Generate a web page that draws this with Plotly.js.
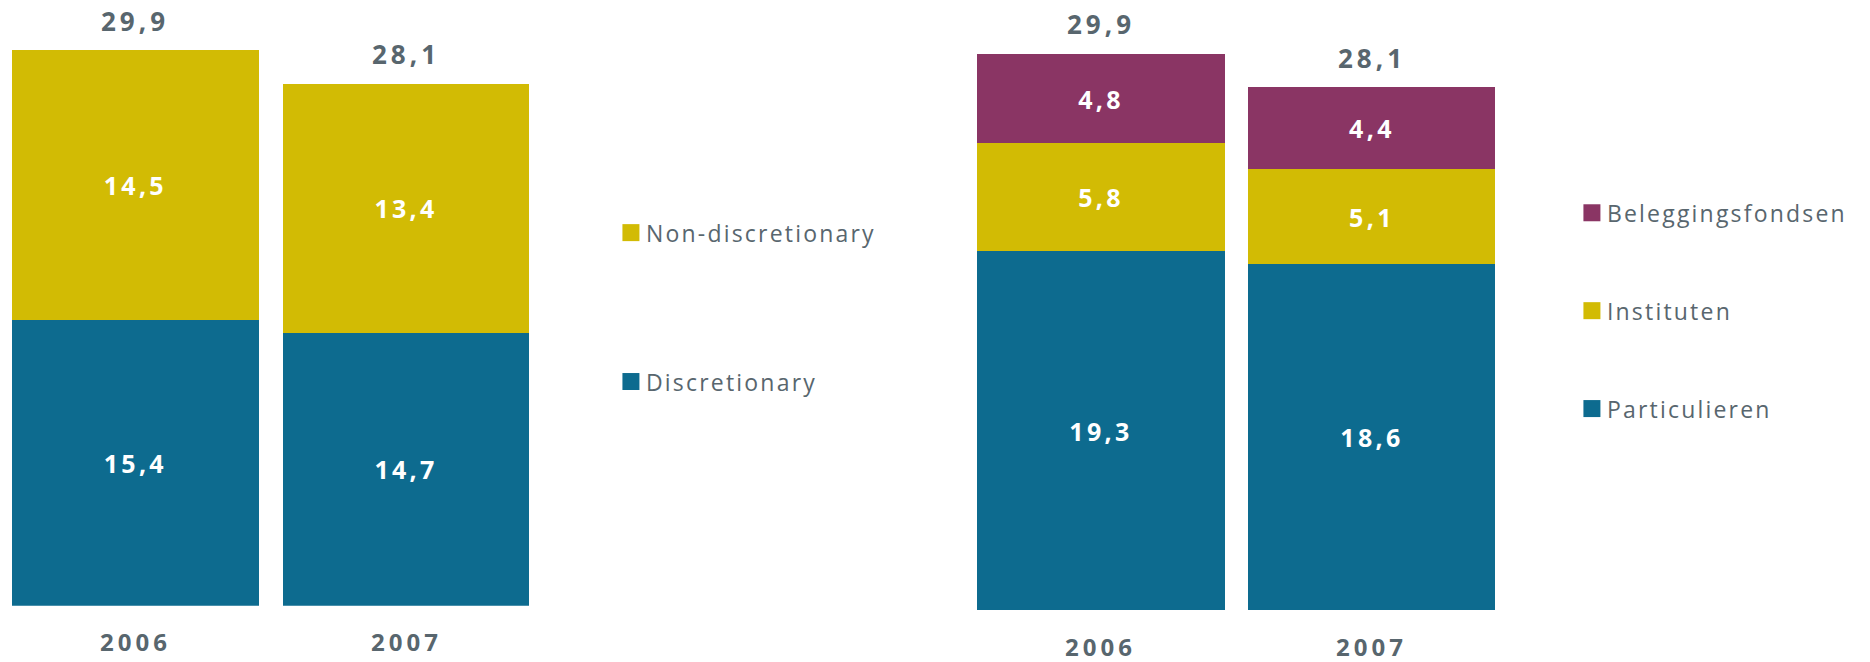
<!DOCTYPE html>
<html>
<head>
<meta charset="utf-8">
<script src="https://cdn.plot.ly/plotly-3.0.1.min.js"></script>
<style>
  html, body { margin: 0; padding: 0; background: #fff; }
  #chart { width: 1870px; height: 662px; }
  text.bartext { letter-spacing: 3.3px; }
  text.annotation-text { letter-spacing: 4px; }
  g[class^="legend"] text { letter-spacing: 2.2px; }
</style>
</head>
<body>
<div id="chart"></div>
<script>
// values (mld euro)
const years = ['2006', '2007'];
const discretionary = [15.4, 14.7];
const nonDiscretionary = [14.5, 13.4];
const particulieren = [19.3, 18.6];
const instituten = [5.8, 5.1];
const beleggingsfondsen = [4.8, 4.4];
const totals = [29.9, 28.1];

const TEAL = '#0d6b8f';
const YELLOW = '#d2bb04';
const PURPLE = '#8a3564';
const GREY = '#58666e';
const FONT = '"Open Sans", Lato, sans-serif';

// helper for one stacked segment
function bar(name, y, color, xa, ya, legend, rank) {
  return {
    type: 'bar',
    name: name,
    x: years,
    y: y,
    xaxis: xa,
    yaxis: ya,
    legend: legend,
    legendgroup: name,
    legendrank: rank,
    marker: {color: color, line: {width: 0}},
    texttemplate: '%{y:.1f}',
    textposition: 'inside',
    insidetextanchor: 'middle',
    textangle: 0,
    constraintext: 'none',
    textfont: {family: FONT, size: 25, color: '#ffffff', weight: 'bold'},
    hoverinfo: 'skip'
  };
}

const data = [
  bar('Discretionary', discretionary, TEAL, 'x', 'y', 'legend', 2),
  bar('Non-discretionary', nonDiscretionary, YELLOW, 'x', 'y', 'legend', 1),
  bar('Particulieren', particulieren, TEAL, 'x2', 'y2', 'legend2', 3),
  bar('Instituten', instituten, YELLOW, 'x2', 'y2', 'legend2', 2),
  bar('Beleggingsfondsen', beleggingsfondsen, PURPLE, 'x2', 'y2', 'legend2', 1)
];

// totals above the stacks and year labels under them
const annotations = [];
[['x', 'y'], ['x2', 'y2']].forEach(([xa, ya]) => {
  years.forEach((yr, i) => {
    annotations.push({
      xref: xa, yref: ya, x: i, y: totals[i],
      text: totals[i].toFixed(1).replace('.', ','),
      showarrow: false, yanchor: 'middle', yshift: 29.5,
      font: {family: FONT, size: 26, color: GREY, weight: 'bold'}
    });
    annotations.push({
      xref: xa, yref: ya, x: i, y: 0,
      text: yr,
      showarrow: false, yanchor: 'middle', yshift: -36,
      font: {family: FONT, size: 24, color: GREY, weight: 'bold'}
    });
  });
});

const hiddenX = {type: 'category', range: [-0.5, 1.5], showgrid: false, zeroline: false,
  showline: false, showticklabels: false, ticks: '', fixedrange: true};
const hiddenY = {showgrid: false, zeroline: false, showline: false, showticklabels: false,
  ticks: '', fixedrange: true};

const legendFont = {family: FONT, size: 23, color: GREY};

const layout = {
  width: 1870,
  height: 662,
  margin: {l: 0, r: 0, t: 0, b: 0, pad: 0},
  paper_bgcolor: '#ffffff',
  plot_bgcolor: 'rgba(0,0,0,0)',
  barmode: 'stack',
  bargap: 0.088,
  separators: ', ',
  showlegend: true,
  xaxis: Object.assign({}, hiddenX, {domain: [0, 0.2895], anchor: 'y'}),
  yaxis: Object.assign({}, hiddenY, {domain: [0.085, 1], range: [0, 32.6], anchor: 'x'}),
  xaxis2: Object.assign({}, hiddenX, {domain: [0.5163, 0.8061], anchor: 'y2'}),
  yaxis2: Object.assign({}, hiddenY, {domain: [0.0785, 1], range: [0, 32.8], anchor: 'x2'}),
  legend: {
    x: 0.3267, y: 0.681, xanchor: 'left', yanchor: 'top',
    traceorder: 'grouped', tracegroupgap: 116,
    bgcolor: 'rgba(0,0,0,0)', borderwidth: 0, font: legendFont
  },
  legend2: {
    x: 0.8406, y: 0.711, xanchor: 'left', yanchor: 'top',
    traceorder: 'grouped', tracegroupgap: 65,
    bgcolor: 'rgba(0,0,0,0)', borderwidth: 0, font: legendFont
  },
  annotations: annotations,
  font: {family: FONT, color: GREY}
};

// bigger legend squares, tighter gap to the label
function tidyLegends() {
  const gd = document.getElementById('chart');
  gd.querySelectorAll('g[class^="legend"] .legendpoints path').forEach(p => {
    p.setAttribute('d', 'M8.5,8.5H-8.5V-8.5H8.5Z');
  });
  gd.querySelectorAll('g.traces text').forEach(t => {
    if (t.closest('g[class^="legend"]')) t.setAttribute('x', 35);
  });
  gd.querySelectorAll('g[class^="legend"], g[class^="legend"] .scrollbox').forEach(el => {
    el.removeAttribute('clip-path');
  });
}

Plotly.newPlot('chart', data, layout, {staticPlot: true, displayModeBar: false}).then(gd => {
  tidyLegends();
  setTimeout(tidyLegends, 50);
});
</script>
</body>
</html>
